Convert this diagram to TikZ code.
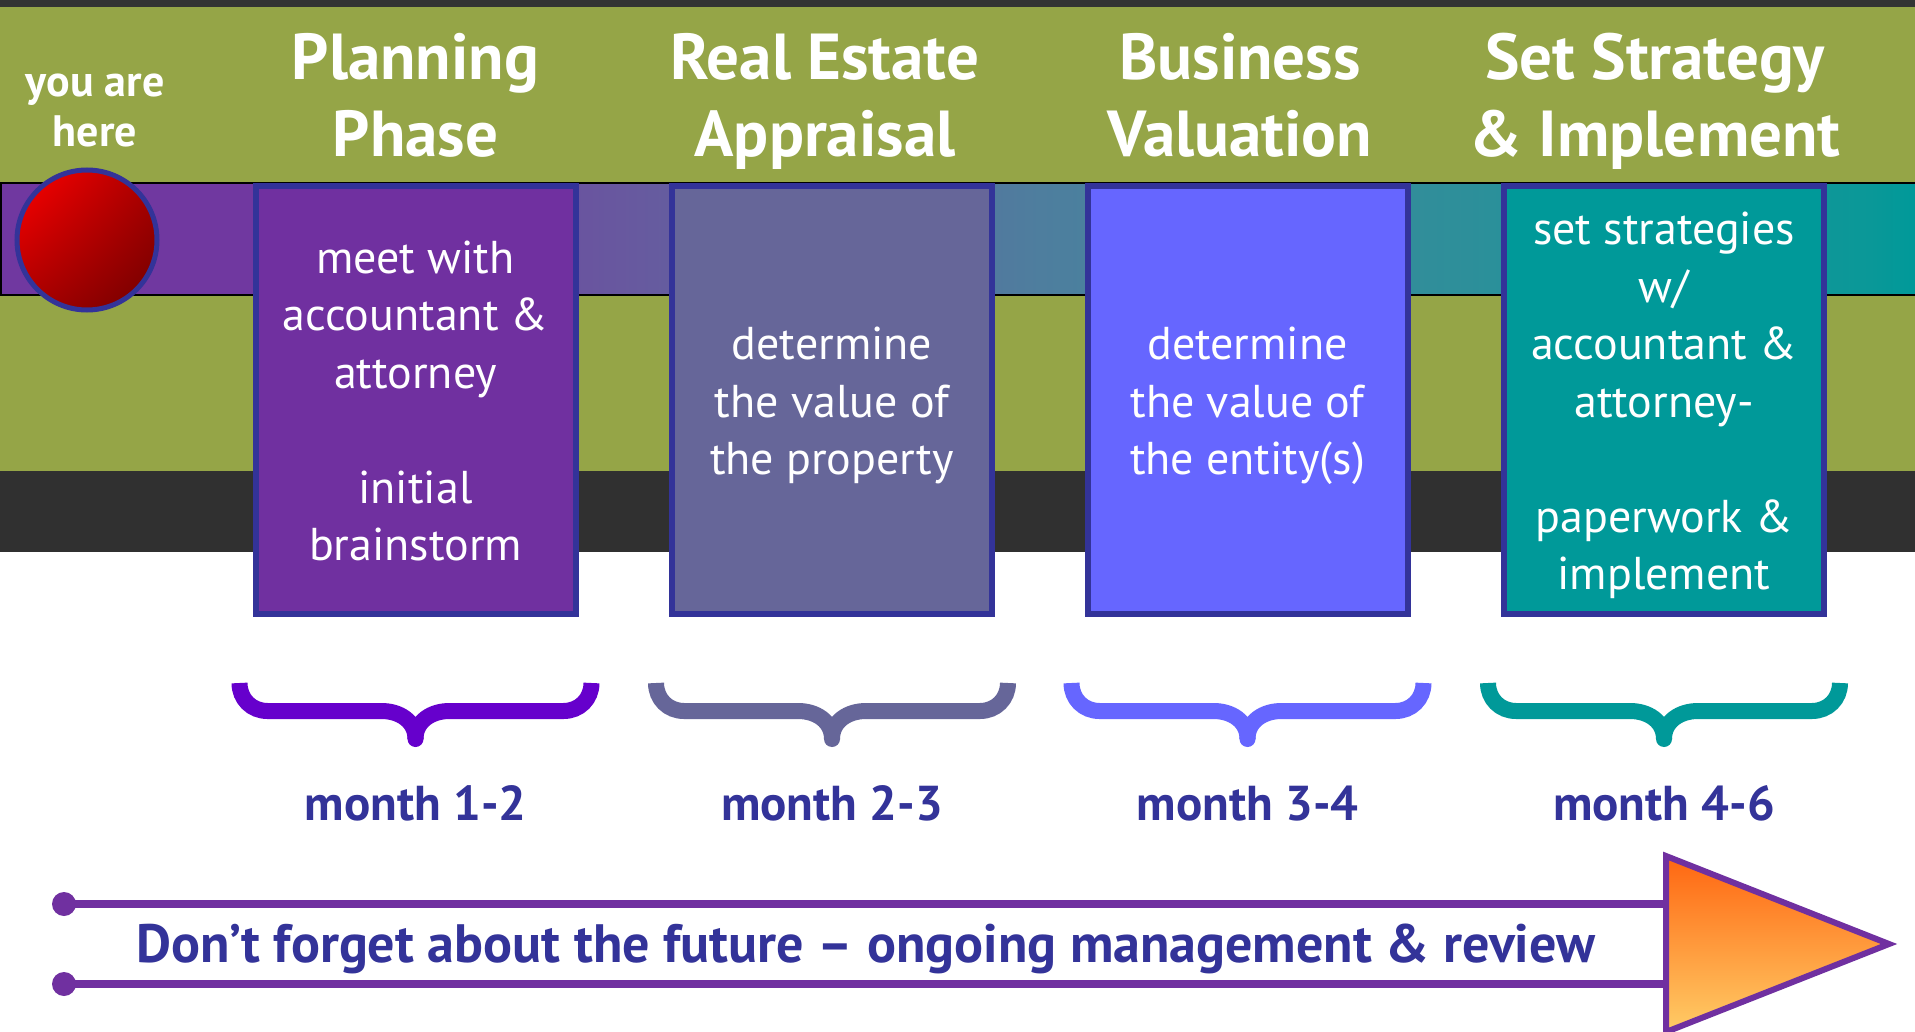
\documentclass[tikz,border=0pt]{standalone}
\usepackage{fontspec}
\setmainfont{PT Sans}
\usetikzlibrary{shadings}
\newcommand\topstrut{\rule{0pt}{49pt}}
\newcommand\botstrut{\rule[-15pt]{0pt}{15pt}}
\definecolor{olive}{RGB}{149,165,71}
\definecolor{topdark}{RGB}{51,51,51}
\definecolor{darkband}{RGB}{48,48,48}
\definecolor{bandA}{RGB}{112,56,160}
\definecolor{bandB}{RGB}{104,88,159}
\definecolor{bandC}{RGB}{78,126,158}
\definecolor{bandD}{RGB}{46,143,154}
\definecolor{bandE}{RGB}{10,152,152}
\definecolor{bandF}{RGB}{0,153,153}
\definecolor{boxA}{RGB}{112,48,160}
\definecolor{boxB}{RGB}{102,102,153}
\definecolor{boxC}{RGB}{102,102,255}
\definecolor{boxD}{RGB}{0,153,153}
\definecolor{braceA}{RGB}{102,0,204}
\definecolor{boxborder}{RGB}{51,51,153}
\definecolor{navytext}{RGB}{51,51,153}
\definecolor{arrowpurple}{RGB}{112,48,160}
\definecolor{triTop}{RGB}{255,102,17}
\definecolor{triBot}{RGB}{255,204,102}
\definecolor{ballA}{RGB}{255,0,0}
\definecolor{ballB}{RGB}{112,0,0}
\definecolor{ballC}{RGB}{170,0,0}
\begin{document}
\begin{tikzpicture}[x=1pt,y=-1pt,
  phasebox/.style={draw=boxborder, line width=6, minimum width=320, minimum height=428,
    inner sep=0, align=center, text=white, font=\fontsize{46}{57.5}\selectfont},
  hdr/.style={anchor=base, inner sep=0, align=center, text=white,
    font=\bfseries\fontsize{65}{77}\selectfont},
  here/.style={anchor=base, inner sep=0, align=center, text=white,
    font=\bfseries\fontsize{44}{50}\selectfont},
  month/.style={anchor=base, inner sep=0, text=navytext, font=\bfseries\fontsize{49}{55}\selectfont},
  note/.style={anchor=base, inner sep=0, text=navytext, font=\bfseries\fontsize{54}{58}\selectfont},
  bracestroke/.style={line width=16, line cap=butt},
  enddot/.style={circle, fill=arrowpurple, minimum size=24, inner sep=0},
  arrowline/.style={draw=arrowpurple, line width=8}
]
\useasboundingbox (0,0) rectangle (1915,1032);
\fill[white] (0,0) rectangle (1915,1032);
% background bands
\fill[topdark] (0,0) rectangle (1915,7);
\fill[olive] (0,7) rectangle (1915,471);
\fill[darkband] (0,471) rectangle (1915,552);
% gradient band
\fill[bandA] (0,183) rectangle (255,295);
\shade[left color=bandA, right color=bandB] (254,183) rectangle (621,295);
\shade[left color=bandB, right color=bandC] (620,183) rectangle (1041,295);
\shade[left color=bandC, right color=bandD] (1040,183) rectangle (1456,295);
\shade[left color=bandD, right color=bandE] (1455,183) rectangle (1871,295);
\shade[left color=bandE, right color=bandF] (1870,183) rectangle (1915,295);
\draw[black, line width=2] (0,183) -- (1915,183);
\draw[black, line width=2] (0,295) -- (1915,295);
\draw[black, line width=2] (1,183) -- (1,295);

% phase boxes
\node[phasebox, fill=boxA] (b1) at (415.5,400) {\topstrut meet with\\accountant \&\\attorney\\\mbox{}\\initial\\brainstorm\botstrut};
\node[phasebox, fill=boxB] (b2) at (832,400) {\topstrut determine\\the value of\\the property\botstrut};
\node[phasebox, fill=boxC] (b3) at (1247.5,400) {\topstrut determine\\the value of\\the entity(s)\botstrut};
\node[phasebox, fill=boxD] (b4) at (1664,400) {\topstrut set strategies\\w/\\accountant \&\\attorney-\\\mbox{}\\paperwork \&\\implement\botstrut};

% "you are here" ball
\node[circle, minimum size=140, inner sep=0, draw=boxborder, line width=5,
  upper left=ballA, upper right=ballC, lower left=ballC, lower right=ballB] (ball) at (87,240) {};
\node[here] (youare) at (95,147) {you are\\here};

% headers (base = baseline of the last line)
\node[hdr] (h1) at (415.5,157) {Planning\\Phase};
\node[hdr] (h2) at (825,157) {Real Estate\\Appraisal};
\node[hdr] (h3) at (1240,157) {Business\\Valuation};
\node[hdr] (h4) at (1655,157) {Set Strategy\\\& Implement};

% braces
\foreach \b/\c in {b1/braceA, b2/boxB, b3/boxC, b4/boxD}{
  \begin{scope}[shift={(\b.south)}, yshift=-66pt]
    \draw[bracestroke, draw=\c] (-176,0) .. controls (-176,16) and (-164,28) .. (-148,28)
      -- (-34,28) .. controls (-16,28) and (0,38) .. (0,56);
    \draw[bracestroke, draw=\c] (176,0) .. controls (176,16) and (164,28) .. (148,28)
      -- (34,28) .. controls (16,28) and (0,38) .. (0,56);
    \fill[\c] (0,56) circle (8pt);
  \end{scope}
}

% month labels
\node[month] (m1) at (415.5,820) {month 1-2};
\node[month] (m2) at (832,820) {month 2-3};
\node[month] (m3) at (1247.5,820) {month 3-4};
\node[month] (m4) at (1664,820) {month 4-6};

% bottom arrow
\node[enddot] (d1) at (64,904) {};
\node[enddot] (d2) at (64,984) {};
\coordinate (t1) at (1667,904);
\coordinate (t2) at (1667,984);
\draw[arrowline] (d1.center) -- (t1);
\draw[arrowline] (d2.center) -- (t2);
\path[draw=arrowpurple, line width=6, line join=miter, top color=triTop, bottom color=triBot]
  (1666,856) -- (1889,944) -- (1666,1032) -- cycle;
\node[note] (note) at (866,962) {Don’t forget about the future – ongoing management \& review};
\end{tikzpicture}
\end{document}
